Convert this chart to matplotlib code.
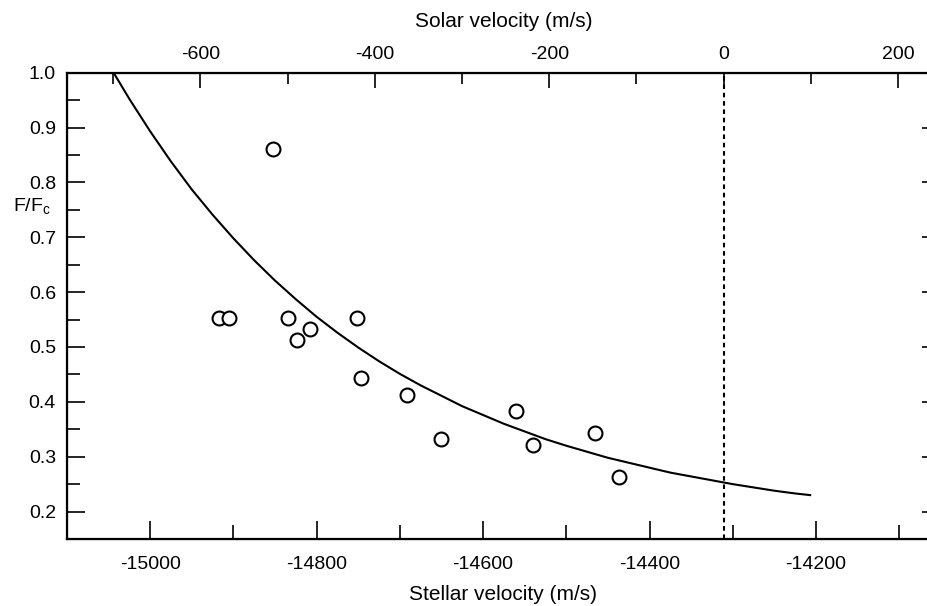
import numpy as np
import matplotlib
matplotlib.use("Agg")
import matplotlib.pyplot as plt
from matplotlib.ticker import MultipleLocator, FormatStrFormatter

plt.rcParams['font.family'] = ['Liberation Sans', 'DejaVu Sans']
plt.rcParams['axes.unicode_minus'] = False

# observed points (stellar velocity, F/Fc)
obs_v = [-14853, -14917, -14905, -14834, -14808, -14824, -14751, -14747,
         -14692, -14651, -14560, -14540, -14465, -14437]
obs_f = [0.861, 0.552, 0.552, 0.552, 0.532, 0.513, 0.552, 0.443,
         0.412, 0.332, 0.383, 0.322, 0.343, 0.263]

# model curve
model_v = [-15044, -15025, -15000, -14975, -14950, -14925, -14900, -14875,
           -14850, -14825, -14800, -14775, -14750, -14725, -14700, -14675,
           -14650, -14625, -14600, -14575, -14550, -14525, -14500, -14475,
           -14450, -14425, -14400, -14375, -14350, -14325, -14300, -14275,
           -14250, -14225, -14207]
model_f = [1.000, 0.952, 0.893, 0.838, 0.787, 0.741, 0.698, 0.658,
           0.621, 0.587, 0.555, 0.526, 0.499, 0.474, 0.451, 0.430,
           0.411, 0.392, 0.376, 0.360, 0.346, 0.332, 0.320, 0.309,
           0.298, 0.289, 0.280, 0.271, 0.264, 0.257, 0.250, 0.244,
           0.238, 0.233, 0.230]

stellar_lim = (-15100, -14051)
solar_lim = (-753, 248)
solar_zero = 0

fig = plt.figure(figsize=(9.28, 6.06), dpi=100)
ax = fig.add_axes([67/928, 1-539/606, (940-67)/928, (539-72.7)/606])

ax.plot(model_v, model_f, color='black', lw=1.5, zorder=3)
ax.plot(obs_v, obs_f, 'o', ms=10, mfc='white', mec='black', mew=1.5, zorder=4)

ax.set_xlim(*stellar_lim)
ax.set_ylim(0.15, 1.0)
ax.xaxis.set_major_locator(MultipleLocator(200))
ax.xaxis.set_minor_locator(MultipleLocator(100))
ax.yaxis.set_major_locator(MultipleLocator(0.1))
ax.yaxis.set_minor_locator(MultipleLocator(0.05))
ax.yaxis.set_major_formatter(FormatStrFormatter('%.1f'))
ax.tick_params(which='both', direction='in', top=False, right=True, labelsize=14, width=1.2)
ax.tick_params(axis='x', which='major', length=13, pad=12)
ax.tick_params(axis='x', which='minor', length=10)
ax.tick_params(axis='y', which='major', length=13, pad=8)
ax.tick_params(axis='y', which='minor', length=9)
ax.set_xlabel('Stellar velocity (m/s)', fontsize=15, labelpad=9)
for s in ax.spines.values():
    s.set_linewidth(1.6)

ax2 = ax.twiny()
ax2.set_xlim(*solar_lim)
ax2.xaxis.set_major_locator(MultipleLocator(200))
ax2.xaxis.set_minor_locator(MultipleLocator(100))
ax2.tick_params(which='both', direction='in', labelsize=14, width=1.2)
ax2.tick_params(which='major', length=11, pad=7)
ax2.tick_params(which='minor', length=8)
ax2.set_xlabel('Solar velocity (m/s)', fontsize=15, labelpad=14)
ax2.axvline(solar_zero, color='black', lw=1.5, ls=(0, (2.2, 1.8)), zorder=2)

fig.text(13/928, 1-212/606, r'F/F$_\mathregular{c}$', fontsize=14, va='baseline', ha='left')

fig.savefig('out.png', dpi=100)
